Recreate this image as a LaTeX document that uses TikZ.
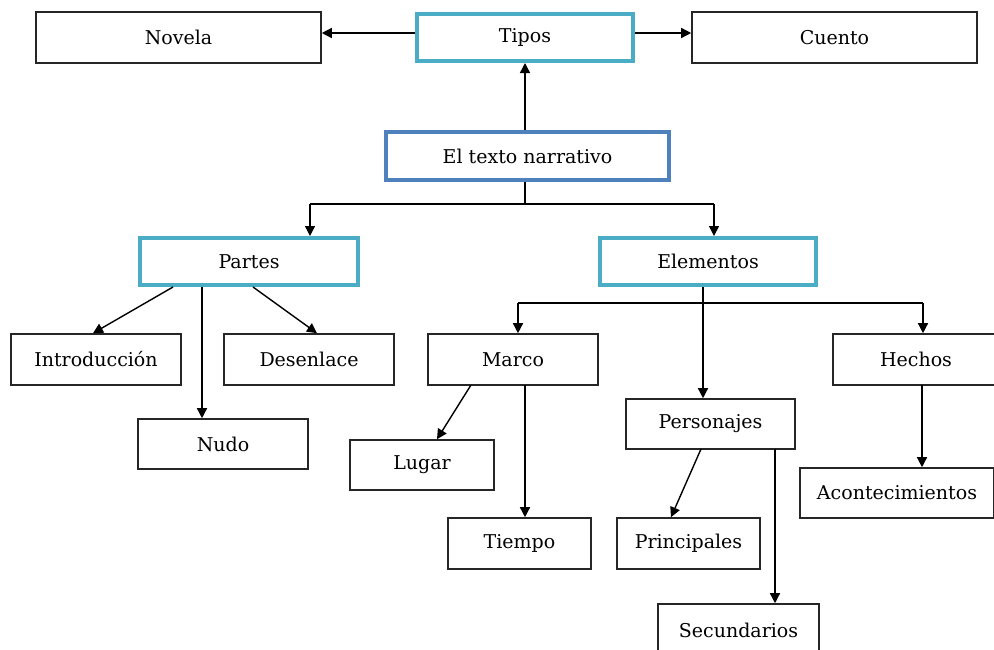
\documentclass[tikz,border=0pt]{standalone}
\usepackage{fontspec}
\setmainfont{DejaVu Serif}
\usetikzlibrary{arrows.meta}
\definecolor{teal1}{HTML}{4BACC6}
\definecolor{blue1}{HTML}{4F81BD}
\begin{document}
\begin{tikzpicture}[x=1pt,y=-1pt,
  box/.style={draw=black!85,line width=1.6pt,fill=white,inner sep=0pt,font=\fontsize{19}{22}\selectfont},
  tbox/.style={box,draw=teal1,line width=4pt},
  bbox/.style={box,draw=blue1,line width=4pt},
  conn/.style={line width=1.4pt,-{Triangle[length=10pt,width=10pt]}},
  plain/.style={line width=1.4pt}]
\useasboundingbox (0,0) rectangle (994,649);
\fill[white] (0,0) rectangle (994,649);
% top row
\node[box,minimum width=285pt,minimum height=51pt] (novela) at (178.5,37.5) {Novela};
\node[tbox,minimum width=216pt,minimum height=47pt] (tipos) at (525,37.5) {Tipos};
\node[box,minimum width=285pt,minimum height=51pt] (cuento) at (834.5,37.5) {Cuento};
\node[bbox,minimum width=283pt,minimum height=48pt] (texto) at (527.5,156) {El texto narrativo};
\node[tbox,minimum width=218pt,minimum height=47pt] (partes) at (249,261.5) {Partes};
\node[tbox,minimum width=216pt,minimum height=47pt] (elem) at (708,261.5) {Elementos};
% partes children
\node[box,minimum width=170pt,minimum height=51pt] (intro) at (96,359.5) {Introducción};
\node[box,minimum width=170pt,minimum height=51pt] (desen) at (309,359.5) {Desenlace};
\node[box,minimum width=170pt,minimum height=50pt] (nudo) at (223,444) {Nudo};
% elementos children
\node[box,minimum width=170pt,minimum height=51pt] (marco) at (513,359.5) {Marco};
\node[box,minimum width=166pt,minimum height=51pt] (hechos) at (916,359.5) {Hechos};
\node[box,minimum width=169pt,minimum height=50pt] (perso) at (710.5,424) {Personajes};
\node[box,minimum width=144pt,minimum height=50pt] (lugar) at (422,465) {Lugar};
\node[box,minimum width=143pt,minimum height=51pt] (tiempo) at (519.5,543.5) {Tiempo};
\node[box,minimum width=194pt,minimum height=50pt] (acont) at (897,493) {Acontecimientos};
\node[box,minimum width=143pt,minimum height=51pt] (princ) at (688.5,543.5) {Principales};
\node[box,minimum width=161pt,minimum height=52pt] (secun) at (738.5,630) {Secundarios};
% connectors top
\draw[conn] (tipos.west |- 0,33) -- (novela.east |- 0,33);
\draw[conn] (tipos.east |- 0,33) -- (cuento.west |- 0,33);
\draw[conn] (texto.north -| tipos.south) -- (tipos.south);
% texto to partes / elementos
\coordinate (tj) at (525,204);
\draw[plain] (texto.south -| tj) -- (tj);
\draw[plain] (310,204) -- (714,204);
\draw[conn] (310,204) -- (partes.north -| 310,0);
\draw[conn] (714,204) -- (elem.north -| 714,0);
% partes
\draw[conn] (173,287) -- (intro.north -| 93,0);
\draw[conn] (202,287) -- (nudo.north -| 202,0);
\draw[conn] (253,287) -- (desen.north -| 317,0);
% elementos
\coordinate (ej) at (703,303);
\draw[plain] (elem.south -| ej) -- (ej);
\draw[plain] (518,303) -- (923,303);
\draw[conn] (518,303) -- (marco.north -| 518,0);
\draw[conn] (923,303) -- (hechos.north -| 923,0);
\draw[conn] (ej) -- (perso.north -| ej);
% marco
\draw[conn] (471,385) -- (lugar.north -| 437,0);
\draw[conn] (525,385) -- (tiempo.north -| 525,0);
% hechos
\draw[conn] (922,385) -- (acont.north -| 922,0);
% personajes
\draw[conn] (701,449) -- (princ.north -| 671,0);
\draw[conn] (775,449) -- (secun.north -| 775,0);
\end{tikzpicture}
\end{document}
